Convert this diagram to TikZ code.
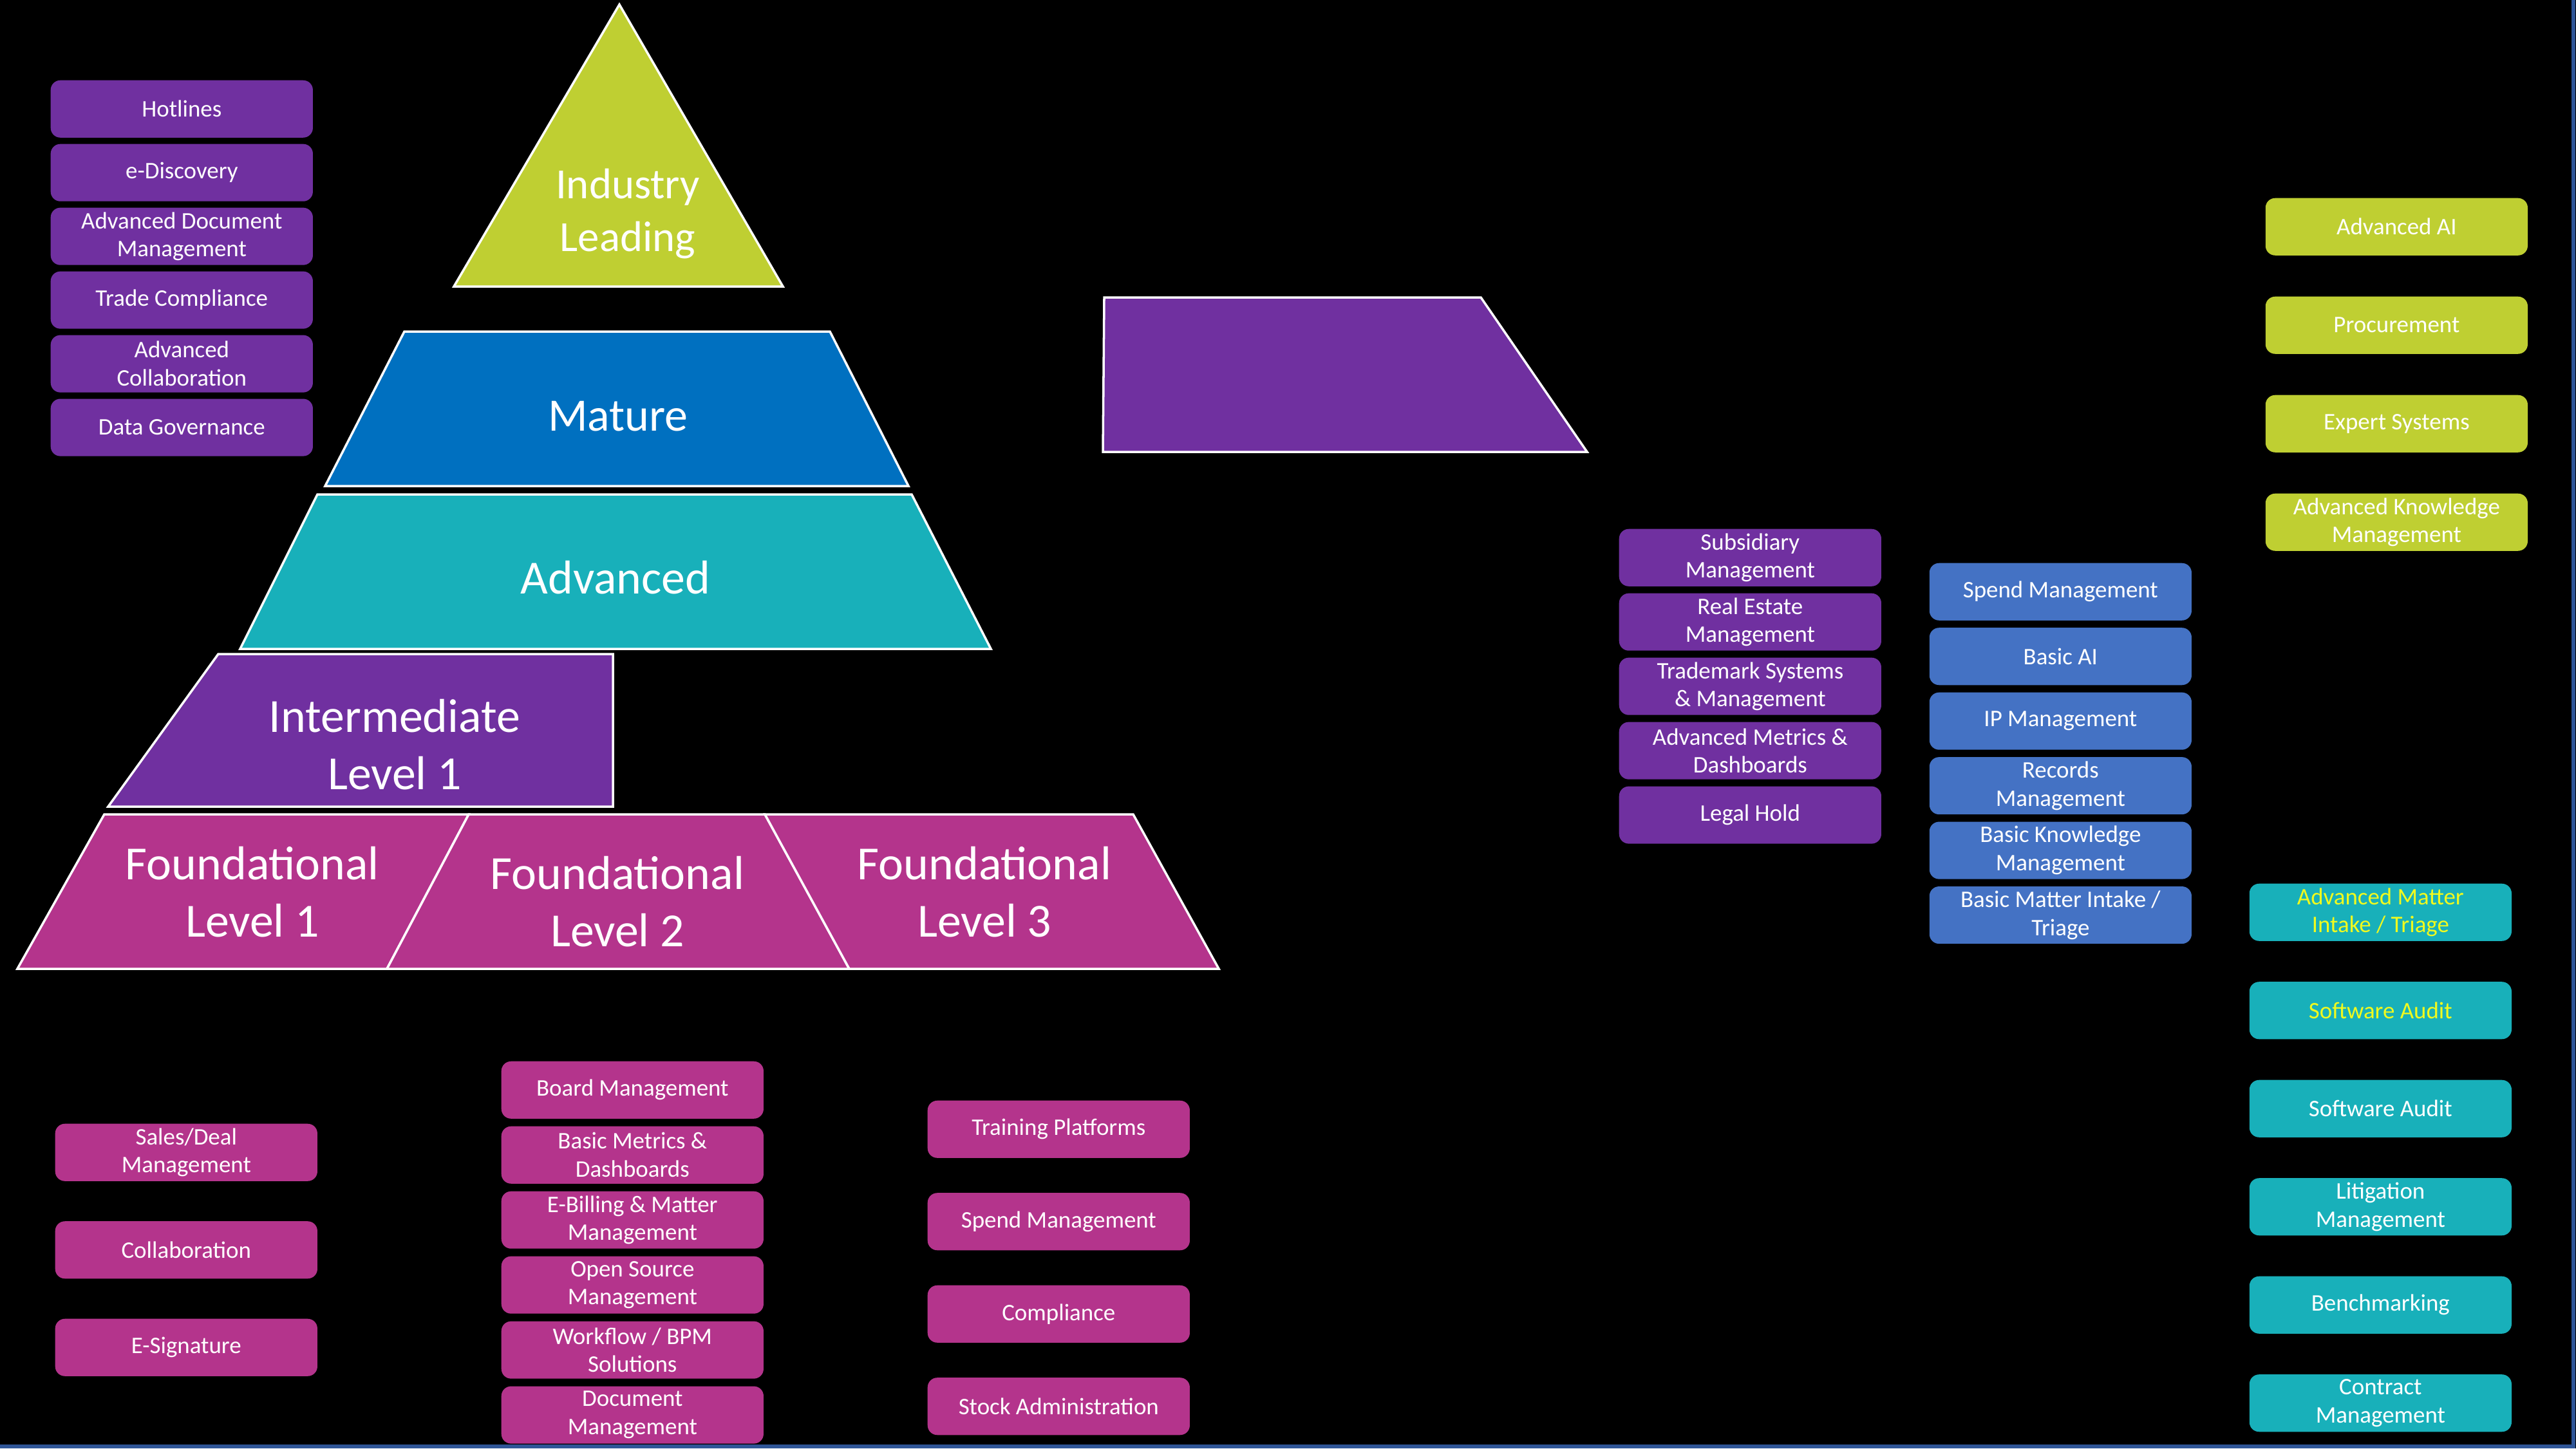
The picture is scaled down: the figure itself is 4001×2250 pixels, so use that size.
\documentclass[tikz,border=0pt]{standalone}
\usepackage{fontspec}
\setmainfont{Carlito}
\usepackage{xcolor}
\usepackage{tikz}
\usetikzlibrary{positioning}

\definecolor{cLime}{RGB}{191,207,50}
\definecolor{cMature}{RGB}{0,112,192}
\definecolor{cTeal}{RGB}{24,176,186}
\definecolor{cPurple}{RGB}{112,48,160}
\definecolor{cMagenta}{RGB}{180,52,140}
\definecolor{cBlue}{RGB}{68,114,196}
\definecolor{cYellow}{RGB}{240,250,30}
\definecolor{cFrame}{RGB}{47,85,151}

\begin{document}
\begin{tikzpicture}[
  x=0.01cm, y=-0.01cm,
  box/.style={rounded corners=0.15cm, minimum width=4.07cm, minimum height=0.89cm,
              inner xsep=2pt, inner ysep=0pt, text=white, align=center,
              font=\fontsize{10.5}{12.4}\selectfont},
  pbox/.style={box, fill=cPurple},
  mbox/.style={box, fill=cMagenta},
  bbox/.style={box, fill=cBlue},
  lbox/.style={box, fill=cLime},
  tbox/.style={box, fill=cTeal},
  level/.style={draw=white, line width=1pt},
  big/.style={text=white, align=center, font=\fontsize{21}{25.3}\selectfont}
]
% Background and frame
\fill[black] (0,0) rectangle (4001,2250);
\useasboundingbox (0,0) rectangle (4001,2250);
\draw[cFrame, line width=0.06cm] (3997,0) -- (3997,2247) -- (0,2247);

% Pyramid levels
\draw[level, fill=cLime] (962,7) -- (1216,445) -- (705,445) -- cycle;
\draw[level, fill=cMature] (628,515) -- (1289,515) -- (1411,755) -- (505,755) -- cycle;
\draw[level, fill=cTeal] (493,768) -- (1416,768) -- (1539,1008) -- (373,1008) -- cycle;
\draw[level, fill=cPurple] (339,1016) -- (952,1016) -- (952,1253) -- (168,1253) -- cycle;
\draw[level, fill=cMagenta] (162,1265) -- (728,1265) -- (601,1505) -- (27,1505) -- cycle;
\draw[level, fill=cMagenta] (728,1265) -- (1188,1265) -- (1319,1505) -- (601,1505) -- cycle;
\draw[level, fill=cMagenta] (1188,1265) -- (1760,1265) -- (1893,1505) -- (1319,1505) -- cycle;
\draw[level, fill=cPurple] (1715,462) -- (2300,462) -- (2465,702) -- (1713,702) -- cycle;

\node[big, font=\fontsize{19}{23.3}\selectfont] (lead) at (975,332) {Industry\\Leading};
\node[big, font=\fontsize{20.5}{24}\selectfont] (mature) at (960,647) {Mature};
\node[big] (advanced) at (956,897) {Advanced};
\node[big] (inter) at (613,1157) {Intermediate\\Level 1};
\node[big] (found1) at (392,1386) {Foundational\\Level 1};
\node[big] (found2) at (959,1401) {Foundational\\Level 2};
\node[big] (found3) at (1529,1386) {Foundational\\Level 3};

% Top-left column
\node[pbox, anchor=north west] (hotlines) at (78,124) {Hotlines};
\node[pbox, below=0.085cm of hotlines] (ediscovery) {e-Discovery};
\node[pbox, below=0.085cm of ediscovery] (advdoc) {Advanced Document\\Management};
\node[pbox, below=0.085cm of advdoc] (trade) {Trade Compliance};
\node[pbox, below=0.085cm of trade] (advcollab) {Advanced\\Collaboration};
\node[pbox, below=0.085cm of advcollab] (datagov) {Data Governance};

% Foundational columns
\node[mbox, anchor=north west] (sales) at (85,1745) {Sales/Deal\\Management};
\node[mbox, below=0.61cm of sales] (collab) {Collaboration};
\node[mbox, below=0.61cm of collab] (esign) {E-Signature};

\node[mbox, anchor=north west] (board) at (778,1648) {Board Management};
\node[mbox, below=0.105cm of board] (basicmetrics) {Basic Metrics \&\\Dashboards};
\node[mbox, below=0.105cm of basicmetrics] (ebilling) {E-Billing \& Matter\\Management};
\node[mbox, below=0.105cm of ebilling] (opensource) {Open Source\\Management};
\node[mbox, below=0.105cm of opensource] (workflow) {Workflow / BPM\\Solutions};
\node[mbox, below=0.105cm of workflow] (docmgmt) {Document\\Management};

\node[mbox, anchor=north west] (training) at (1440,1709) {Training Platforms};
\node[mbox, below=0.53cm of training] (spendf) {Spend Management};
\node[mbox, below=0.53cm of spendf] (compliance) {Compliance};
\node[mbox, below=0.53cm of compliance] (stock) {Stock Administration};

% Intermediate column
\node[pbox, anchor=north west] (subsidiary) at (2514,821) {Subsidiary\\Management};
\node[pbox, below=0.095cm of subsidiary] (realestate) {Real Estate\\Management};
\node[pbox, below=0.095cm of realestate] (trademark) {Trademark Systems\\\& Management};
\node[pbox, below=0.095cm of trademark] (advmetrics) {Advanced Metrics \&\\Dashboards};
\node[pbox, below=0.095cm of advmetrics] (legalhold) {Legal Hold};

% Mature column
\node[bbox, anchor=north west] (spend) at (2996,874) {Spend Management};
\node[bbox, below=0.1cm of spend] (basicai) {Basic AI};
\node[bbox, below=0.1cm of basicai] (ipmgmt) {IP Management};
\node[bbox, below=0.1cm of ipmgmt] (records) {Records\\Management};
\node[bbox, below=0.1cm of records] (basickm) {Basic Knowledge\\Management};
\node[bbox, below=0.1cm of basickm] (basicintake) {Basic Matter Intake /\\Triage};

% Industry leading column
\node[lbox, anchor=north west] (advai) at (3518,307) {Advanced AI};
\node[lbox, below=0.625cm of advai] (procure) {Procurement};
\node[lbox, below=0.625cm of procure] (expert) {Expert Systems};
\node[lbox, below=0.625cm of expert] (advkm) {Advanced Knowledge\\Management};

% Advanced column
\node[tbox, anchor=north west, text=cYellow] (advintake) at (3493,1372) {Advanced Matter\\Intake / Triage};
\node[tbox, below=0.62cm of advintake, text=cYellow] (swaudit) {Software Audit};
\node[tbox, below=0.62cm of swaudit] (swauditb) {Software Audit};
\node[tbox, below=0.62cm of swauditb] (litigation) {Litigation\\Management};
\node[tbox, below=0.62cm of litigation] (bench) {Benchmarking};
\node[tbox, below=0.62cm of bench] (contract) {Contract\\Management};

\end{tikzpicture}
\end{document}
